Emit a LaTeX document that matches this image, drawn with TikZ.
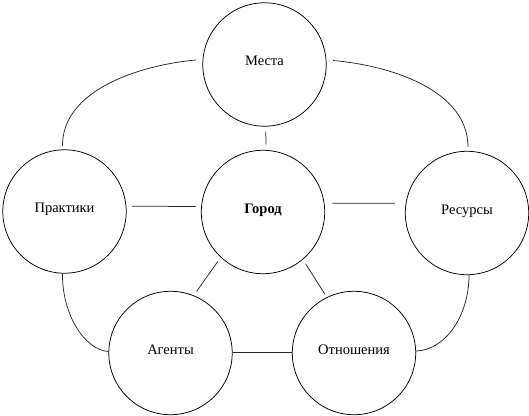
\documentclass[tikz,border=0pt]{standalone}
\usepackage{fontspec}
\setmainfont{Liberation Serif}
\begin{document}
\begin{tikzpicture}[x=1pt,y=-1pt,
  bub/.style={draw=black,circle,line width=0.75pt,minimum size=123.4pt,inner sep=0pt},
  lbl/.style={anchor=base,inner sep=0pt,font=\fontsize{14.5}{17}\selectfont},
  conn/.style={draw=black!85,line width=0.75pt}]
\useasboundingbox (0,0) rectangle (529,415);
% circles
\node[bub] (m) at (264.5,64.5) {};
\node[bub] (g) at (263,212) {};
\node[bub] (p) at (64.5,211.5) {};
\node[bub] (r) at (467,213) {};
\node[bub] (a) at (170.5,353) {};
\node[bub] (o) at (354,353) {};
% labels
\node[lbl] (mt) at ([yshift=-1pt]m.center) {Места};
\node[lbl] (gt) at ([yshift=-1pt]g.center) {\bfseries Город};
\node[lbl] (pt) at ([yshift=-1pt]p.center) {Практики};
\node[lbl] (rt) at ([yshift=-1pt]r.center) {Ресурсы};
\node[lbl] (at) at ([yshift=-1pt]a.center) {Агенты};
\node[lbl] (ot) at ([yshift=-1pt]o.center) {Отношения};
% straight connectors
\draw[conn,shorten <=5.5pt,shorten >=5.5pt] (p.5) -- (g.175);
\draw[conn,shorten <=8pt,shorten >=10.5pt] (g.8) -- (r.171);
\draw[conn,shorten <=5pt,shorten >=5.5pt] (m.271) -- (g.87);
\draw[conn,shorten <=5pt,shorten >=5pt] (g.227) -- (a.68);
\draw[conn,shorten <=5pt,shorten >=4pt] (g.310) -- (o.116);
\draw[conn] (a.1) -- (o.179);
% curved connectors
\draw[conn] ([xshift=-2pt,yshift=3.5pt]p.north) .. controls (62,90) and (140,65) .. ([xshift=-6.5pt,yshift=4.5pt]m.west);
\draw[conn] ([xshift=6.5pt,yshift=4pt]m.east) .. controls (395,66) and (468,92) .. ([xshift=1pt,yshift=4pt]r.north);
\draw[conn] ([xshift=-2pt]p.south) .. controls (62,315) and (85,350) .. ([yshift=1.5pt]a.west);
\draw[conn] ([xshift=2pt]r.south) .. controls (469,315) and (446,350) .. ([yshift=2pt]o.east);
\end{tikzpicture}
\end{document}
